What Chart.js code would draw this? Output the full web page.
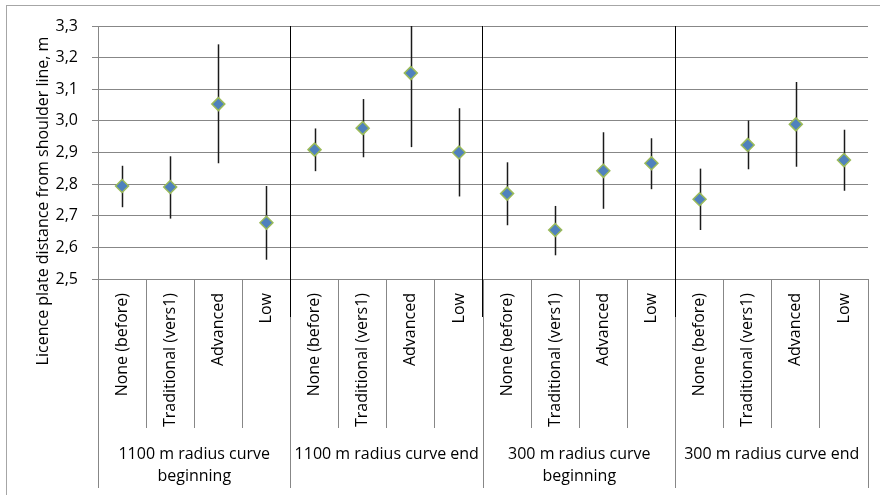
<!DOCTYPE html>
<html>
<head>
<meta charset="utf-8">
<script src="https://cdn.jsdelivr.net/npm/chart.js@4/dist/chart.umd.min.js"></script>
<style>
html,body{margin:0;padding:0;background:#fff;}
canvas{display:block;}
</style>
</head>
<body>
<canvas id="c" width="880" height="495"></canvas>
<script>
// ---- data ----
const groupLabels = [
  ['1100 m radius curve', 'beginning'],
  ['1100 m radius curve end'],
  ['300 m radius curve', 'beginning'],
  ['300 m radius curve end']
];
const treatments = ['None (before)', 'Traditional (vers1)', 'Advanced', 'Low'];
const categoryLabels = groupLabels.flatMap(() => treatments);

const meanValues  = [2.794, 2.791, 3.053, 2.678, 2.909, 2.977, 3.151, 2.900, 2.770, 2.655, 2.842, 2.866, 2.752, 2.924, 2.989, 2.876];
const upperValues = [2.858, 2.888, 3.242, 2.794, 2.976, 3.069, 3.300, 3.040, 2.869, 2.731, 2.964, 2.945, 2.849, 3.001, 3.123, 2.972];
const lowerValues = [2.727, 2.691, 2.866, 2.561, 2.841, 2.885, 2.917, 2.761, 2.670, 2.575, 2.722, 2.784, 2.655, 2.847, 2.855, 2.779];

const yMin = 2.5, yMax = 3.3, yStep = 0.1;
const yTitle = 'Licence plate distance from shoulder line, m';

const FONT = '"Open Sans", sans-serif';
const GRID = '#878787';

const frame = {
  id: 'frame',
  beforeDraw(chart) {
    const ctx = chart.ctx;
    ctx.save();
    ctx.fillStyle = '#fff';
    ctx.fillRect(0, 0, chart.width, chart.height);
    ctx.strokeStyle = '#a6a6a6';
    ctx.lineWidth = 1;
    ctx.strokeRect(6.5, 5.5, chart.width + 10, chart.height + 10);
    ctx.restore();
  }
};

const errorBars = {
  id: 'errorBars',
  beforeDatasetsDraw(chart) {
    const ctx = chart.ctx, xs = chart.scales.x, ys = chart.scales.y;
    ctx.save();
    ctx.strokeStyle = '#1a1a1a';
    ctx.lineWidth = 1.5;
    meanValues.forEach((v, i) => {
      const x = Math.round(xs.getPixelForValue(i)) + 0.5;
      ctx.beginPath();
      ctx.moveTo(x, ys.getPixelForValue(lowerValues[i]));
      ctx.lineTo(x, ys.getPixelForValue(upperValues[i]));
      ctx.stroke();
    });
    // group separators
    ctx.strokeStyle = '#000';
    ctx.lineWidth = 1;
    const per = treatments.length;
    for (let g = 1; g < groupLabels.length; g++) {
      const x = Math.round((xs.getPixelForValue(g * per - 1) + xs.getPixelForValue(g * per)) / 2) - 0.5;
      ctx.beginPath();
      ctx.moveTo(x, ys.getPixelForValue(yMax));
      ctx.lineTo(x, chart.chartArea.bottom + 38);
      ctx.stroke();
    }
    ctx.restore();
  }
};

const yTitlePlugin = {
  id: 'yTitle',
  afterDraw(chart) {
    const ctx = chart.ctx, ys = chart.scales.y, x2 = chart.scales.x2;
    ctx.save();
    ctx.font = '16px ' + FONT;
    ctx.fillStyle = '#000';
    ctx.textAlign = 'center';
    ctx.textBaseline = 'middle';
    const cy = (ys.top + x2.bottom) / 2 - 56;
    ctx.translate(ys.left + 43, cy);
    ctx.rotate(-Math.PI / 2);
    ctx.fillText(yTitle, 0, 0);
    ctx.restore();
  }
};

new Chart(document.getElementById('c'), {
  type: 'line',
  data: {
    labels: categoryLabels,
    datasets: [{
      data: meanValues,
      showLine: false,
      pointStyle: 'rectRot',
      pointRadius: 6.5,
      pointHoverRadius: 6.5,
      pointBackgroundColor: '#4F81BD',
      pointBorderColor: '#9BBB59',
      pointBorderWidth: 1.5
    }]
  },
  options: {
    responsive: false,
    animation: false,
    events: [],
    layout: { padding: { left: 0, top: 26, right: 12, bottom: 7 } },
    plugins: { legend: { display: false }, tooltip: { enabled: false } },
    scales: {
      y: {
        min: yMin, max: yMax,
        afterFit: s => { s.width = 98; },
        ticks: {
          stepSize: yStep,
          padding: 14,
          color: '#000',
          font: { family: FONT, size: 16 },
          callback: v => v.toFixed(1).replace('.', ',')
        },
        grid: { color: GRID, tickLength: 6, lineWidth: 1 },
        border: { color: GRID }
      },
      x: {
        type: 'category',
        labels: categoryLabels,
        offset: true,
        weight: 0,
        afterFit: s => { s.height = 149; },
        grid: { offset: true, drawOnChartArea: false, tickLength: 149, color: GRID },
        border: { color: GRID },
        ticks: {
          autoSkip: false, minRotation: 90, maxRotation: 90,
          padding: -135,
          color: '#000',
          font: { family: FONT, size: 16 }
        }
      },
      x2: {
        type: 'category',
        labels: groupLabels,
        position: 'bottom',
        offset: true,
        weight: 1,
        afterFit: s => { s.height = 60; },
        grid: { offset: true, drawOnChartArea: false, tickLength: 60, color: GRID },
        border: { display: false },
        ticks: {
          autoSkip: false, maxRotation: 0, minRotation: 0,
          padding: -45,
          color: '#000',
          font: { family: FONT, size: 16, lineHeight: 1.375 }
        }
      }
    }
  },
  plugins: [frame, errorBars, yTitlePlugin]
});
</script>
</body>
</html>
